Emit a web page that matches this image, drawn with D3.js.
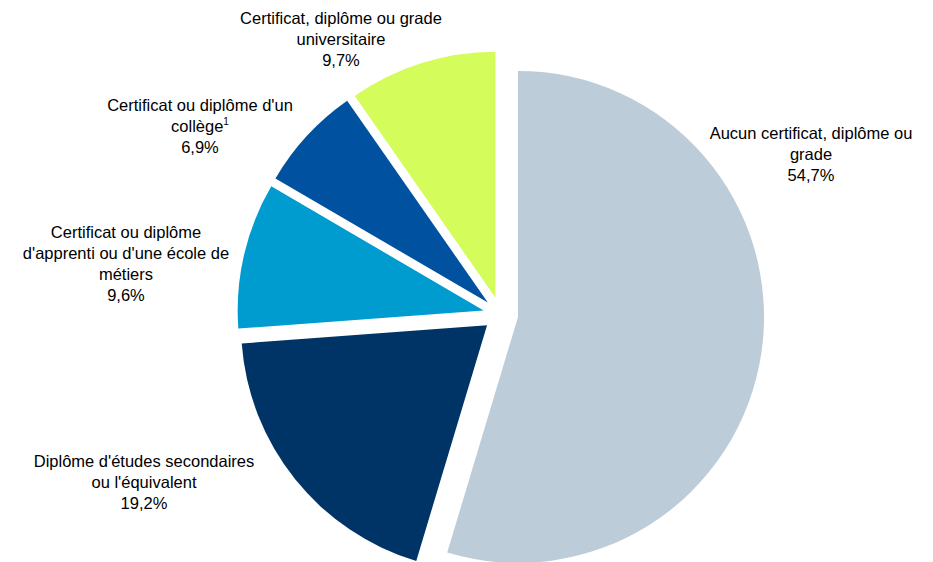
<!DOCTYPE html>
<html>
<head>
<meta charset="utf-8">
<script src="https://cdn.jsdelivr.net/npm/d3@7"></script>
<style>
  body { margin: 0; background: #fff; }
  text { font-family: "Liberation Sans", Arial, sans-serif; font-size: 16.5px; fill: #000; }
</style>
</head>
<body>
<svg id="chart" width="933" height="562"></svg>
<script>
// categories, clockwise from 12 o'clock
var categories = [
  "Aucun certificat, diplôme ou grade",
  "Diplôme d'études secondaires ou l'équivalent",
  "Certificat ou diplôme d'apprenti ou d'une école de métiers",
  "Certificat ou diplôme d'un collège",
  "Certificat, diplôme ou grade universitaire"
];
var values = [54.7, 19.2, 9.6, 6.9, 9.7];
var valueLabels = ["54,7%", "19,2%", "9,6%", "6,9%", "9,7%"];
// wrapped label lines (last one carries the footnote mark)
var labelLines = [
  ["Aucun certificat, diplôme ou", "grade"],
  ["Diplôme d'études secondaires", "ou l'équivalent"],
  ["Certificat ou diplôme", "d'apprenti ou d'une école de", "métiers"],
  ["Certificat ou diplôme d'un", "collège"],
  ["Certificat, diplôme ou grade", "universitaire"]
];
var footnotes = ["", "", "", "1", ""];
var colors = ["#bdccd9", "#003466", "#009bcf", "#0052a0", "#d4fd5b"];

// layout
var cx = 500.7, cy = 314.4, radius = 246, explode = 17.5;
var lineH = 21;
// label block centre x, first line centre y
var labelPos = [[811, 133], [144, 461], [126, 232], [200, 105], [341, 18]];

var svg = d3.select("#chart");

var pie = d3.pie().sort(null).value(function (d) { return d; });
var arc = d3.arc().innerRadius(0).outerRadius(radius);
var arcs = pie(values);

var g = svg.append("g").attr("transform", "translate(" + cx + "," + cy + ")");

g.selectAll("path.slice")
  .data(arcs)
  .enter().append("path")
  .attr("class", "slice")
  .attr("d", arc)
  .attr("fill", function (d, i) { return colors[i]; })
  .attr("transform", function (d) {
    var a = (d.startAngle + d.endAngle) / 2;
    return "translate(" + (explode * Math.sin(a)) + "," + (-explode * Math.cos(a)) + ")";
  });

var labels = svg.selectAll("g.label")
  .data(arcs)
  .enter().append("g")
  .attr("class", "label");

labels.each(function (d, i) {
  var lines = labelLines[i].concat([valueLabels[i]]);
  var p = labelPos[i];
  var t = d3.select(this).append("text")
    .attr("text-anchor", "middle");
  lines.forEach(function (ln, k) {
    t.append("tspan")
      .attr("x", p[0])
      .attr("y", p[1] + k * lineH + 6)
      .text(ln);
    if (k === labelLines[i].length - 1 && footnotes[i]) {
      t.append("tspan")
        .attr("dy", -7)
        .style("font-size", "10px")
        .text(footnotes[i]);
    }
  });
});
</script>
</body>
</html>
